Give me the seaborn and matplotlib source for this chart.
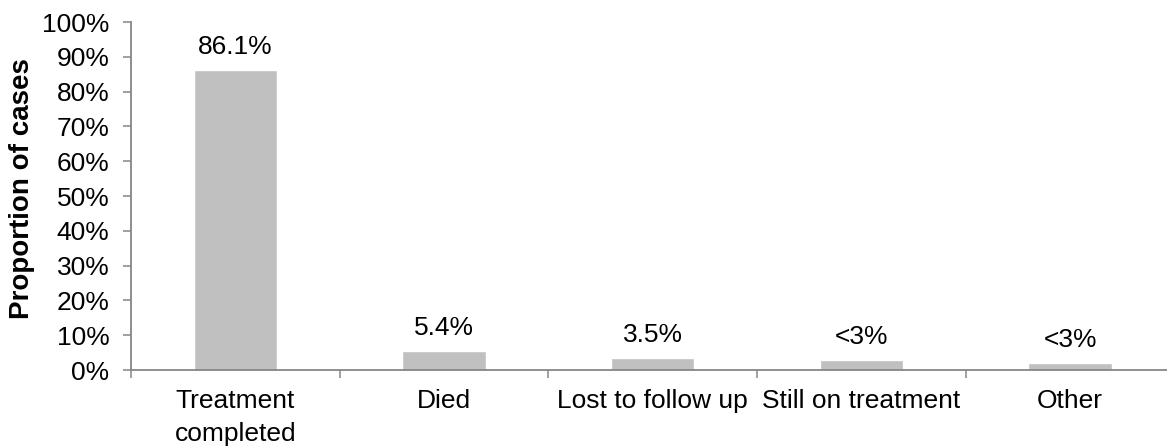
import matplotlib
matplotlib.use("Agg")
import matplotlib.pyplot as plt
from matplotlib.ticker import FixedLocator, FuncFormatter
import seaborn as sns
import pandas as pd

# Treatment outcome categories and share of cases (%)
categories = ["Treatment\ncompleted", "Died", "Lost to follow up",
              "Still on treatment", "Other"]
proportions = [86.1, 5.4, 3.5, 2.8, 2.0]
value_labels = ["86.1%", "5.4%", "3.5%", "<3%", "<3%"]
y_ticks = [0, 10, 20, 30, 40, 50, 60, 70, 80, 90, 100]

sns.set_style("white")
plt.rcParams["font.family"] = ["Liberation Sans", "DejaVu Sans"]
plt.rcParams["text.color"] = "black"
plt.rcParams["xtick.color"] = "black"
plt.rcParams["ytick.color"] = "black"
plt.rcParams["axes.labelcolor"] = "black"

axis_grey = "#868686"
bar_grey = "#C0C0C0"
fs = 19

df = pd.DataFrame({"outcome": categories, "proportion": proportions})

fig = plt.figure(figsize=(11.67, 4.48), dpi=100)
ax = fig.add_axes([131 / 1167, 1 - 370 / 448, 1043.5 / 1167, 348 / 448])

sns.barplot(data=df, x="outcome", y="proportion", color=bar_grey,
            width=0.4, saturation=1, ax=ax)

ax.set_ylim(0, 100)
ax.set_xlim(-0.5, len(categories) - 0.5)
ax.yaxis.set_major_locator(FixedLocator(y_ticks))
ax.yaxis.set_major_formatter(FuncFormatter(lambda v, _: f"{v:.0f}%"))

# value labels above each bar
for i, (v, lab) in enumerate(zip(proportions, value_labels)):
    ax.annotate(lab, (i, v), xytext=(0, 8), textcoords="offset points",
                ha="center", va="bottom", fontsize=fs, color="black")

# category separators as ticks on the x axis
ax.set_xticks(range(len(categories)))
ax.set_xticklabels(categories, fontsize=fs, linespacing=1.5)
ax.set_xticks([i - 0.5 for i in range(len(categories) + 1)], minor=True)
ax.tick_params(axis="x", which="major", length=0, pad=13.5)
ax.tick_params(axis="x", which="minor", direction="out", length=5.5,
               width=1.1, color=axis_grey, bottom=True)
ax.tick_params(axis="y", which="major", direction="out", length=5.5,
               width=1.1, color=axis_grey, labelsize=fs, pad=10, left=True)

ax.set_xlabel("")
ax.set_ylabel("Proportion of cases", fontsize=20, fontweight="bold")
ax.yaxis.set_label_coords(-0.092, 0.52)

for side in ("top", "right"):
    ax.spines[side].set_visible(False)
for side in ("left", "bottom"):
    ax.spines[side].set_color(axis_grey)
    ax.spines[side].set_linewidth(1.3)

fig.savefig("out.png", dpi=100)
